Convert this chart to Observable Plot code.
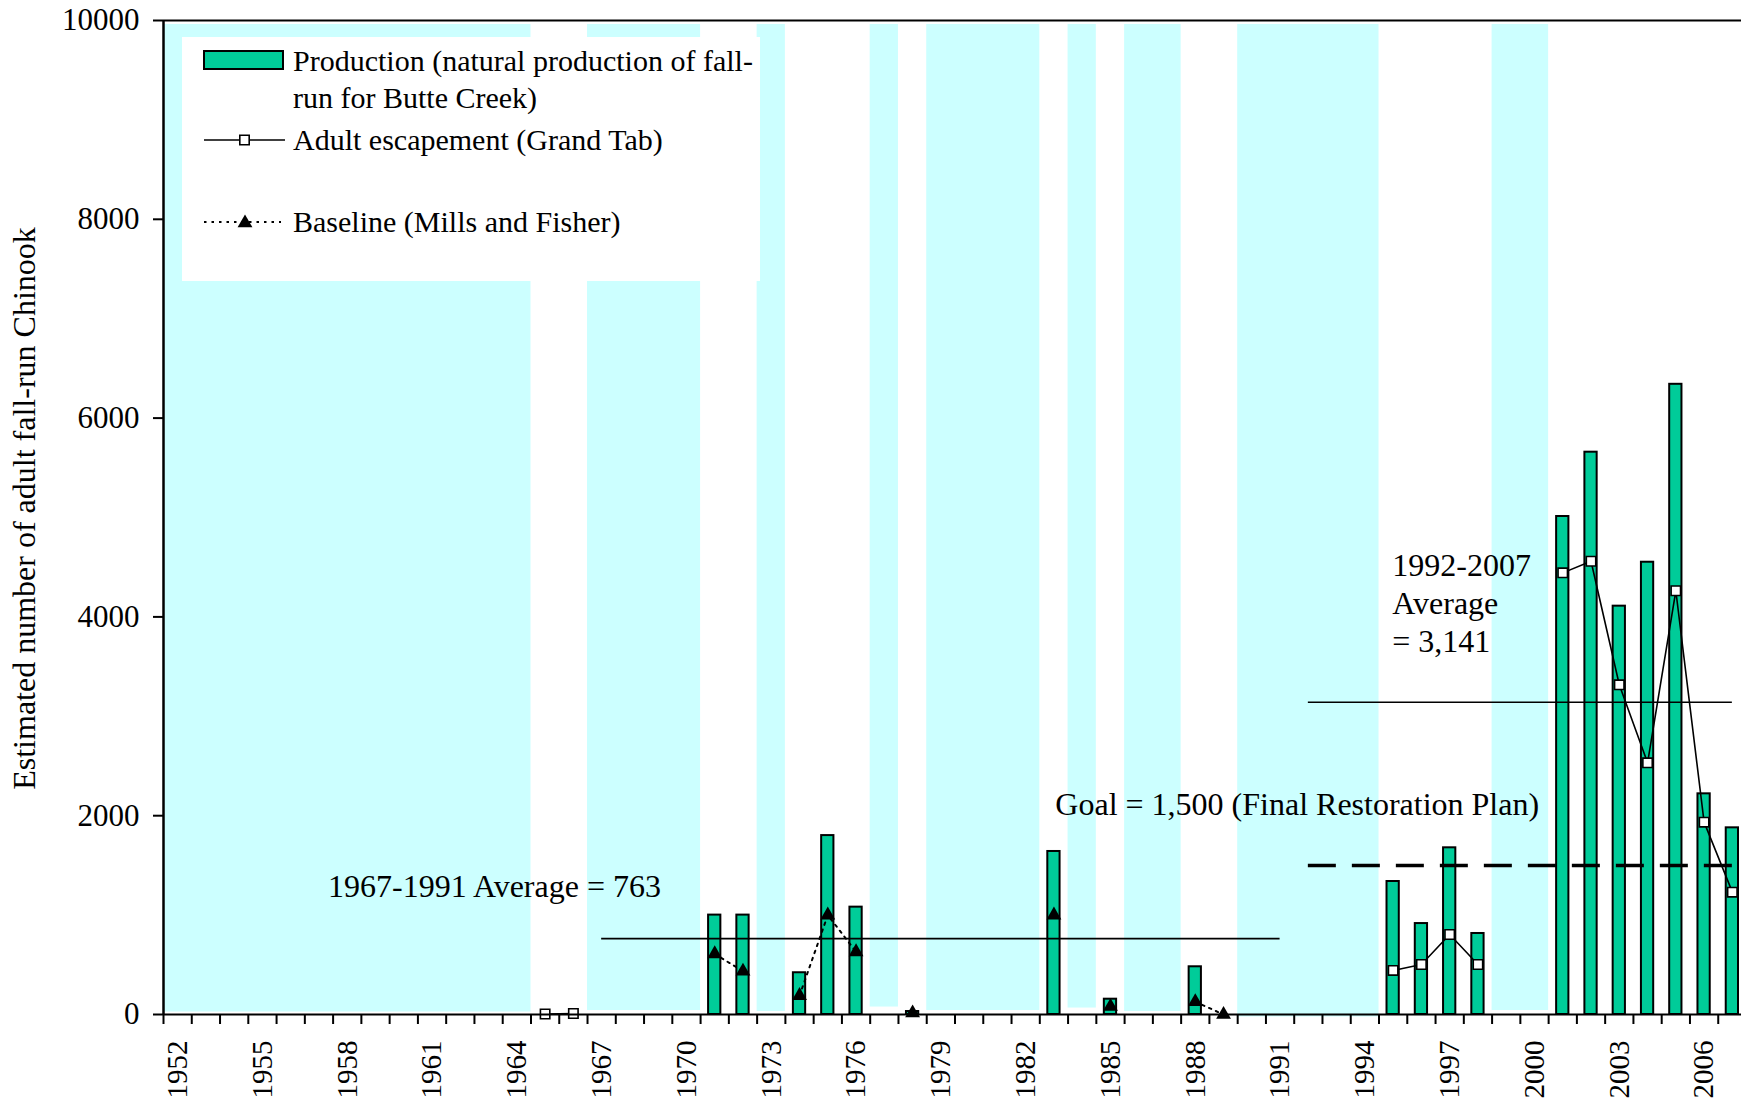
<!DOCTYPE html>
<html>
<head>
<meta charset="utf-8">
<script src="https://cdn.jsdelivr.net/npm/d3@7"></script>
<script src="https://cdn.jsdelivr.net/npm/@observablehq/plot@0.6"></script>
<style>
html, body { margin: 0; padding: 0; background: #fff; overflow: hidden; }
#chart svg { display: block; }
</style>
</head>
<body>
<div id="chart"></div>
<script>
// ---- data ----
const prodYears  = [1971, 1972, 1974, 1975, 1976, 1978, 1983, 1985, 1988, 1995, 1996, 1997, 1998, 2001, 2002, 2003, 2004, 2005, 2006, 2007];
const prodValues = [1000, 1000,  420, 1800, 1080,   30, 1640,  154,  480, 1338,  915, 1677,  815, 5010, 5657, 4108, 4550, 6340, 2220, 1878];

const escYears  = [1965, 1966, 1995, 1996, 1997, 1998, 2001, 2002, 2003, 2004, 2005, 2006, 2007];
const escValues = [   5,   10,  443,  503,  805,  503, 4443, 4560, 3317, 2532, 4263, 1935, 1231];

const baseYears  = [1971, 1972, 1974, 1975, 1976, 1978, 1983, 1985, 1988, 1989];
const baseValues = [ 610,  435,  190, 1000,  630,   15, 1000,   80,  128,    0];

const shadeStart = [1952, 1967, 1973, 1977, 1979, 1984, 1986, 1990, 1999];
const shadeEnd   = [1964, 1970, 1973, 1977, 1982, 1984, 1987, 1994, 2000];
const shadeLow   = [  25,   40,   30,   75,   40,   65,   30,  -25,   40];
const shadeHigh  = [9960, 9960, 9960, 9960, 9960, 9960, 9960, 9960, 9960];

const avgStart  = [1967, 1992];
const avgEnd    = [1991, 2007];
const avgValues = [763, 3141];

const goalStart = [1992];
const goalEnd   = [2007];
const goalValues = [1500];

const yTicks = [0, 2000, 4000, 6000, 8000, 10000];
const xLabelYears = [1952, 1955, 1958, 1961, 1964, 1967, 1970, 1973, 1976, 1979, 1982, 1985, 1988, 1991, 1994, 1997, 2000, 2003, 2006];
const firstYear = 1952, lastYear = 2007;

const seriesNames = ["Production (natural production of fall-\nrun for Butte Creek)", "Adult escapement (Grand Tab)", "Baseline (Mills and Fisher)"];
const yLabel = "Estimated number of adult fall-run Chinook";

// ---- tables ----
const allYears = d3.range(firstYear, lastYear + 2);
const prod = prodYears.map((y, i) => ({year: y, value: prodValues[i]}));
const esc = escYears.map((y, i) => ({year: y, value: escValues[i]}));
const base = baseYears.map((y, i) => ({year: y, value: baseValues[i]}));
const fullSeries = (years, values) => d3.range(firstYear, lastYear + 1).map(y => {
  const i = years.indexOf(y);
  return {year: y, value: i >= 0 ? values[i] : NaN};
});
const escLine = fullSeries(escYears, escValues);
const baseLine = fullSeries(baseYears, baseValues);
const shades = shadeStart.map((s, i) => ({start: s, end: shadeEnd[i], low: shadeLow[i], high: shadeHigh[i]}));
const avgs = avgStart.map((s, i) => ({start: s, end: avgEnd[i], value: avgValues[i]}));
const goals = goalStart.map((s, i) => ({start: s, end: goalEnd[i], value: goalValues[i]}));

const prodColor = "#00CC99";
const shadeColor = "#CCFFFF";
const font = "Liberation Serif";
const fmt = d3.format(",");
const sqR = 5.3, triR = 5.5;

const svg = Plot.plot({
  width: 1741,
  height: 1104,
  marginLeft: 163,
  marginRight: 0,
  marginTop: 20,
  marginBottom: 90,
  style: {fontFamily: font, fontSize: "30px", background: "white", color: "black", overflow: "hidden"},
  x: {type: "linear", domain: [firstYear, lastYear + 1], range: [163, 1746]},
  y: {domain: [0, 10000]},
  marks: [
    Plot.rect(shades, {x1: "start", x2: d => d.end + 1, y1: "low", y2: "high", fill: shadeColor}),
    Plot.rect(prod, {x1: "year", x2: d => d.year + 1, y1: 0, y2: "value", insetLeft: 8, insetRight: 8,
      fill: prodColor, stroke: "black", strokeWidth: 2}),
    Plot.ruleY(avgs, {y: "value", x1: d => d.start + 0.5, x2: d => d.end + 0.5, stroke: "black", strokeWidth: 1.6}),
    Plot.ruleY(goals, {y: "value", x1: d => d.start + 0.5, x2: d => d.end + 0.5, stroke: "black", strokeWidth: 3.5, strokeDasharray: "28,16"}),
    Plot.line(escLine, {x: d => d.year + 0.5, y: "value", stroke: "black", strokeWidth: 1.6}),
    Plot.line(baseLine, {x: d => d.year + 0.5, y: "value", stroke: "black", strokeWidth: 2, strokeDasharray: "2.5,5"}),
    Plot.dot(esc, {x: d => d.year + 0.5, y: "value", symbol: "square", r: sqR, fill: "white", stroke: "black", strokeWidth: 1.6}),
    Plot.dot(base, {x: d => d.year + 0.5, y: "value", symbol: "triangle", r: triR, fill: "black", stroke: "none"}),
    // frame lines
    Plot.ruleY([0], {stroke: "black", strokeWidth: 2.2}),
    Plot.ruleY([10000], {stroke: "black", strokeWidth: 2}),
    Plot.ruleX([firstYear], {y1: 0, y2: 10000, stroke: "black", strokeWidth: 2.5}),
    // axes
    Plot.axisY({ticks: yTicks, tickSize: 10, tickPadding: 14, tickFormat: d => String(d), fontSize: 31, strokeWidth: 2, label: null}),
    Plot.axisX({ticks: allYears, tickSize: 10, tickFormat: () => "", strokeWidth: 2, label: null}),
    Plot.axisX({ticks: xLabelYears.map(y => y + 0.5), tickSize: 0, tickPadding: 26, tickRotate: -90,
      tickFormat: d => String(d - 0.5), fontSize: 29, label: null}),
    // y label
    Plot.text([yLabel], {text: d => d, frameAnchor: "left", textAnchor: "middle", lineAnchor: "middle",
      dx: -139, dy: -9, rotate: -90, fontSize: 32, fill: "black"}),
    // annotations
    Plot.text(avgs.slice(0, 1), {text: d => `${d.start}-${d.end} Average = ${d.value}`, x: 1957.82, y: 1180,
      textAnchor: "start", lineAnchor: "bottom", fontSize: 32, fill: "black"}),
    Plot.text(avgs.slice(1, 2), {text: d => `${d.start}-${d.end}\nAverage\n= ${fmt(d.value)}`, x: 1995.47, y: 3642,
      textAnchor: "start", lineAnchor: "bottom", lineHeight: 1.2, fontSize: 32, fill: "black"}),
    Plot.text(goals, {text: d => `Goal = ${fmt(d.value)} (Final Restoration Plan)`, x: 1983.55, y: 2012,
      textAnchor: "start", lineAnchor: "bottom", fontSize: 32, fill: "black"})
  ]
});

// ---- legend (inside plot area, upper left) ----
const g = d3.select(svg).append("g").attr("font-family", font).attr("font-size", 30)
  .attr("fill", "black").attr("text-anchor", "start");
g.append("rect").attr("x", 182).attr("y", 37).attr("width", 578).attr("height", 244).attr("fill", "white");
g.append("rect").attr("x", 204).attr("y", 51).attr("width", 79).attr("height", 18)
  .attr("fill", prodColor).attr("stroke", "black").attr("stroke-width", 2);
const lines0 = seriesNames[0].split("\n");
g.append("text").attr("x", 293).attr("y", 71).text(lines0[0]);
g.append("text").attr("x", 293).attr("y", 108).text(lines0[1]);
g.append("line").attr("x1", 204).attr("x2", 285).attr("y1", 140).attr("y2", 140)
  .attr("stroke", "black").attr("stroke-width", 1.6);
g.append("path").attr("d", d3.symbol(d3.symbolSquare, sqR * sqR * Math.PI)())
  .attr("transform", "translate(244.5,140)").attr("fill", "white").attr("stroke", "black").attr("stroke-width", 1.6);
g.append("text").attr("x", 293).attr("y", 150).text(seriesNames[1]);
g.append("line").attr("x1", 204).attr("x2", 281).attr("y1", 222).attr("y2", 222)
  .attr("stroke", "black").attr("stroke-width", 2).attr("stroke-dasharray", "2.5,5");
g.append("path").attr("d", d3.symbol(d3.symbolTriangle, triR * triR * Math.PI)())
  .attr("transform", "translate(245,223)").attr("fill", "black");
g.append("text").attr("x", 293).attr("y", 232).text(seriesNames[2]);

document.getElementById("chart").appendChild(svg);
</script>
</body>
</html>
